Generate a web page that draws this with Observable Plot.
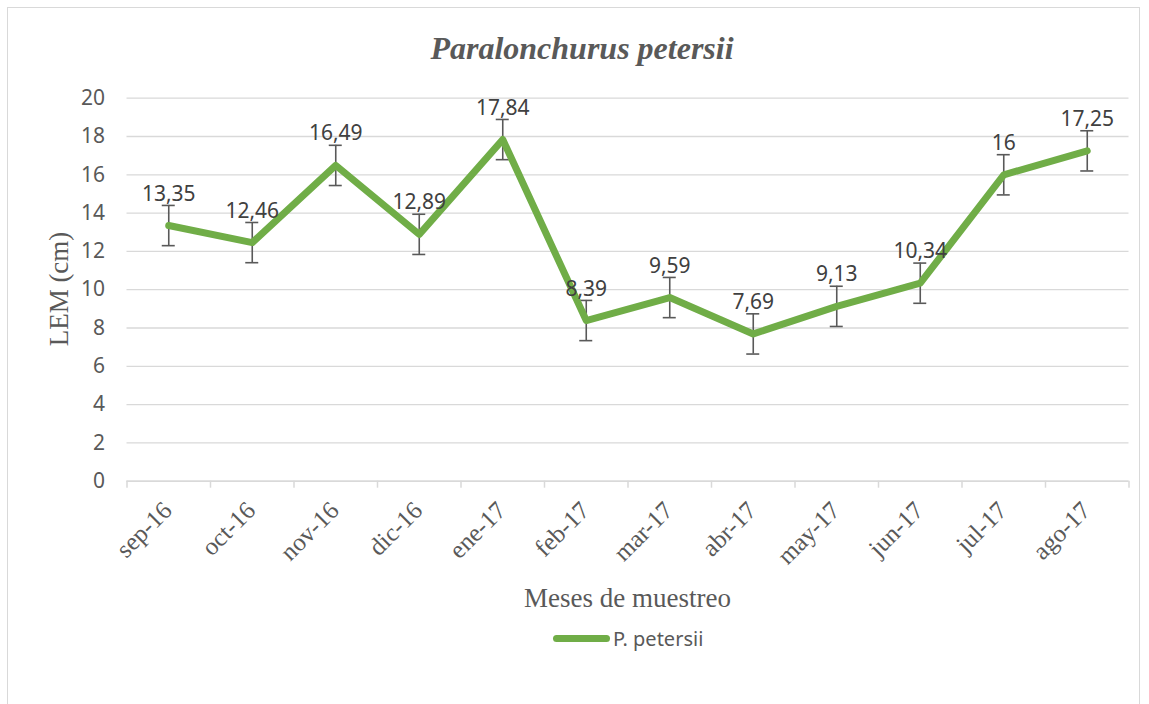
<!DOCTYPE html>
<html>
<head>
<meta charset="utf-8">
<script src="https://cdn.jsdelivr.net/npm/d3@7"></script>
<script src="https://cdn.jsdelivr.net/npm/@observablehq/plot@0.6"></script>
<style>
  html, body { margin: 0; padding: 0; background: #fff; }
  #wrap { position: relative; width: 1149px; height: 704px; overflow: hidden; background: #fff; }
  #frame { position: absolute; left: 7px; top: 7px; width: 1133px; height: 700px; border: 1.5px solid #d9d9d9; box-sizing: border-box; }
  #chart { position: absolute; left: 0; top: 0; }
  #title { position: absolute; left: 0; width: 1164px; top: 30px; text-align: center;
           font-family: "Liberation Serif", serif; font-style: italic; font-weight: bold; font-size: 32px; color: #595959; line-height: 36px; }
  #ytitle { position: absolute; left: 59px; top: 289px; transform: translate(-50%, -50%) rotate(-90deg);
            font-family: "Liberation Serif", serif; font-size: 27px; color: #595959; white-space: nowrap; line-height: 30px; }
  #xtitle { position: absolute; left: 0; width: 1255px; top: 583px; text-align: center;
            font-family: "Liberation Serif", serif; font-size: 27px; color: #595959; line-height: 30px; }
  #legend { position: absolute; left: 553px; top: 624px; display: flex; align-items: center; height: 28px;
            font-family: "Noto Sans", sans-serif; font-size: 20px; color: #595959; }
  #legend .sw { width: 57px; height: 7px; border-radius: 4px; background: #70AD47; margin-right: 3px; }
</style>
</head>
<body>
<div id="wrap">
  <div id="frame"></div>
  <div id="chart"></div>
  <div id="title">Paralonchurus petersii</div>
  <div id="ytitle">LEM (cm)</div>
  <div id="xtitle">Meses de muestreo</div>
  <div id="legend"><div class="sw"></div><span>P. petersii</span></div>
</div>
<script>
const months = ["sep-16","oct-16","nov-16","dic-16","ene-17","feb-17","mar-17","abr-17","may-17","jun-17","jul-17","ago-17"];
const lem = [13.35, 12.46, 16.49, 12.89, 17.84, 8.39, 9.59, 7.69, 9.13, 10.34, 16, 17.25];
const errs = [1.05, 1.05, 1.05, 1.05, 1.05, 1.05, 1.05, 1.05, 1.05, 1.05, 1.05, 1.05];
const yTicks = [0, 2, 4, 6, 8, 10, 12, 14, 16, 18, 20];
const seriesName = "P. petersii";

const data = months.map((m, i) => ({i, m, v: lem[i], e: errs[i]}));
const cx = d => d.i + 0.5;
const fmt = v => String(v).replace(".", ",");

const chart = Plot.plot({
  width: 1149,
  height: 704,
  marginLeft: 126.5,
  marginRight: 20.5,
  marginTop: 97.7,
  marginBottom: 223.3,
  x: {domain: [0, months.length]},
  y: {domain: [0, 20]},
  style: {background: "transparent", fontFamily: "Noto Sans, sans-serif", fontSize: "21px", overflow: "visible"},
  marks: [
    Plot.gridY(yTicks, {stroke: "#d9d9d9", strokeOpacity: 1, strokeWidth: 1.3}),
    Plot.ruleY([0], {stroke: "#d9d9d9", strokeWidth: 1.6}),
    Plot.axisY({ticks: yTicks, tickSize: 0, tickPadding: 22, label: null, fill: "#595959", fontSize: 21}),
    Plot.axisX({ticks: d3.range(months.length + 1), tickSize: 7, tickFormat: () => "", stroke: "#d9d9d9", strokeWidth: 1.5, strokeOpacity: 1, label: null}),
    Plot.text(data, {x: cx, text: "m", frameAnchor: "bottom", dy: 25, dx: -1, rotate: -45, textAnchor: "end", lineAnchor: "middle",
                     fill: "#595959", fontFamily: "Liberation Serif, serif", fontSize: 25}),
    Plot.ruleX(data, {x: cx, y1: d => d.v - d.e, y2: d => d.v + d.e, stroke: "#595959", strokeWidth: 1.6}),
    Plot.ruleY(data, {y: d => d.v + d.e, x1: cx, x2: cx, insetLeft: -6.5, insetRight: -6.5, stroke: "#595959", strokeWidth: 1.6}),
    Plot.ruleY(data, {y: d => d.v - d.e, x1: cx, x2: cx, insetLeft: -6.5, insetRight: -6.5, stroke: "#595959", strokeWidth: 1.6}),
    Plot.line(data, {x: cx, y: "v", stroke: "#70AD47", strokeWidth: 7, strokeLinejoin: "round", strokeLinecap: "round"}),
    Plot.text(data, {x: cx, y: "v", text: d => fmt(d.v), dy: -25, lineAnchor: "bottom", fill: "#404040", fontSize: 21})
  ]
});
document.getElementById("chart").appendChild(chart);
</script>
</body>
</html>
